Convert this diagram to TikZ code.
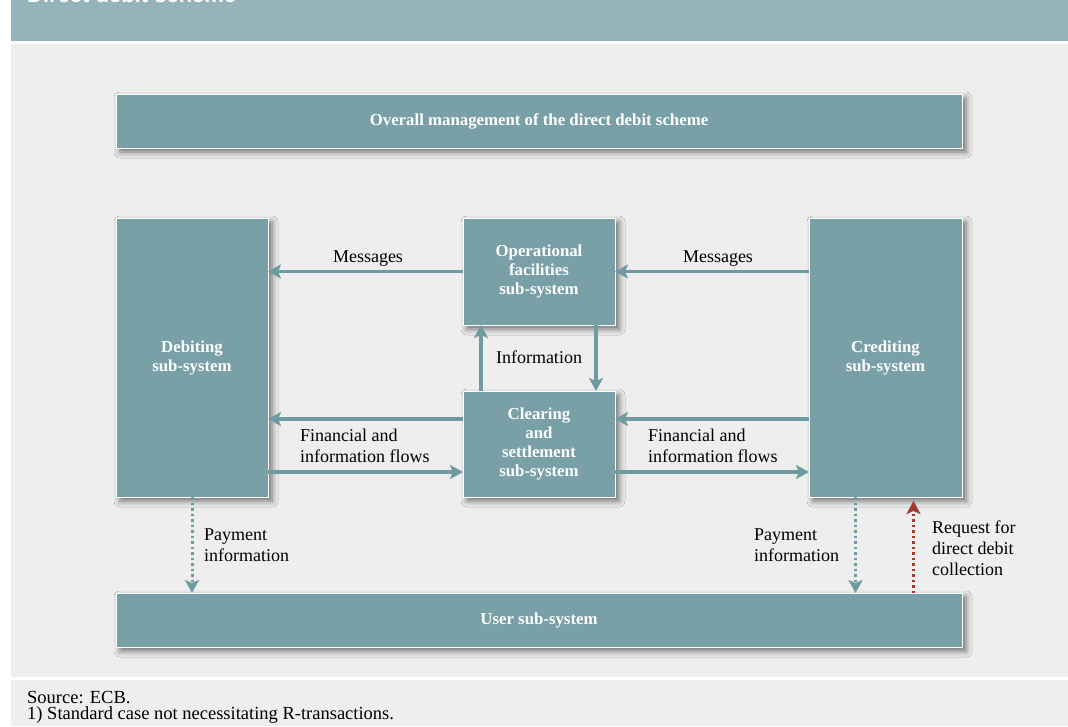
\documentclass[tikz,border=0pt]{standalone}
\usepackage{fontspec}
\setmainfont{Liberation Serif}
\newfontfamily\titlefont{Liberation Sans}
\usetikzlibrary{arrows.meta,shadows.blur}
\definecolor{boxc}{HTML}{78A0A6}
\definecolor{arrowc}{HTML}{6E9AA2}
\definecolor{reqc}{HTML}{A0392F}
\definecolor{bgc}{HTML}{EEEEEE}
\definecolor{hdrc}{HTML}{95B3BA}
\begin{document}
\begin{tikzpicture}[x=1pt,y=-1pt,
  unit/.style={shape=rectangle,draw=white,line width=1pt,fill=boxc,text=white,align=center,inner sep=0pt,outer sep=0pt,
    font=\bfseries\fontsize{16.8}{19}\selectfont,
    blur shadow={shadow xshift=4pt,shadow yshift=-4pt,shadow blur radius=6pt,shadow opacity=55}},
  lbl/.style={align=left,inner sep=0pt,font=\fontsize{18}{21}\selectfont},
  flow/.style={draw=arrowc,line width=3.5pt,-{Stealth[length=13pt,width=14pt,inset=3pt]}},
  dotflow/.style={draw=arrowc,line width=3pt,dash pattern=on 2.5pt off 3pt,-{Stealth[length=13pt,width=14pt,inset=3pt]}},
  reqflow/.style={dotflow,draw=reqc}]
\useasboundingbox (0,0) rectangle (1068,726);
\fill[hdrc] (11,0) rectangle (1068,41);
\fill[bgc] (11,44) rectangle (1068,677);
\fill[bgc] (11,680) rectangle (1068,726);
\node[anchor=base west,inner sep=0pt,text=white,font=\titlefont\bfseries\fontsize{22}{26}\selectfont] (title) at (27,2) {Direct debit scheme};

\node[unit,minimum width=846pt,minimum height=54pt] (mgmt) at (539,121) {Overall management of the direct debit scheme};
\node[unit,minimum width=152pt,minimum height=279pt] (deb) at (192,357.5) {Debiting\\sub-system};
\node[unit,minimum width=152pt,minimum height=107pt] (op) at (539,271.5) {Operational\\facilities\\sub-system};
\node[unit,minimum width=152pt,minimum height=106pt] (cl) at (539,444) {Clearing\\and\\settlement\\sub-system};
\node[unit,minimum width=153pt,minimum height=279pt] (cred) at (885.5,357.5) {Crediting\\sub-system};
\node[unit,minimum width=846pt,minimum height=54pt] (user) at (539,620) {User sub-system};

\node[lbl] (msgl) at (368,259) {Messages};
\node[lbl] (msgr) at (718,259) {Messages};
\node[lbl] (info) at (539,357) {Information};
\node[lbl,anchor=west] (finl) at (300,445.5) {Financial and\\information flows};
\node[lbl,anchor=west] (finr) at (648,445.5) {Financial and\\information flows};
\node[lbl,anchor=west] (payl) at (204,545) {Payment\\information};
\node[lbl,anchor=west] (payr) at (754,545) {Payment\\information};
\node[lbl,anchor=west] (req) at (932,548) {Request for\\direct debit\\collection};

\path (op.west) edge[flow] (op.west -| deb.east);
\path (cred.west |- op.west) edge[flow] (op.east);
\path ([xshift=-58pt]cl.north) edge[flow] ([xshift=-58pt]op.south);
\path ([xshift=57pt]op.south) edge[flow] ([xshift=57pt]cl.north);
\path ([yshift=25pt]cl.west) edge[flow] ([yshift=25pt]cl.west -| deb.east);
\path ([yshift=-28pt]cl.west -| deb.east) edge[flow] ([yshift=-28pt]cl.west);
\path ([yshift=25pt]cl.east -| cred.west) edge[flow] ([yshift=25pt]cl.east);
\path ([yshift=-28pt]cl.east) edge[flow] ([yshift=-28pt]cl.east -| cred.west);
\path (deb.south) edge[dotflow] (deb.south |- user.north);
\path ([xshift=-30pt]cred.south) edge[dotflow] ([xshift=-30pt]cred.south |- user.north);
\path ([xshift=28pt]cred.south |- user.north) edge[reqflow,shorten >=4pt] ([xshift=28pt]cred.south);

\node[anchor=base west,inner sep=0pt,font=\fontsize{18.5}{16}\selectfont,align=left] (src) at (27,719) {Source: ECB.\\1) Standard case not necessitating R-transactions.};
\end{tikzpicture}
\end{document}
